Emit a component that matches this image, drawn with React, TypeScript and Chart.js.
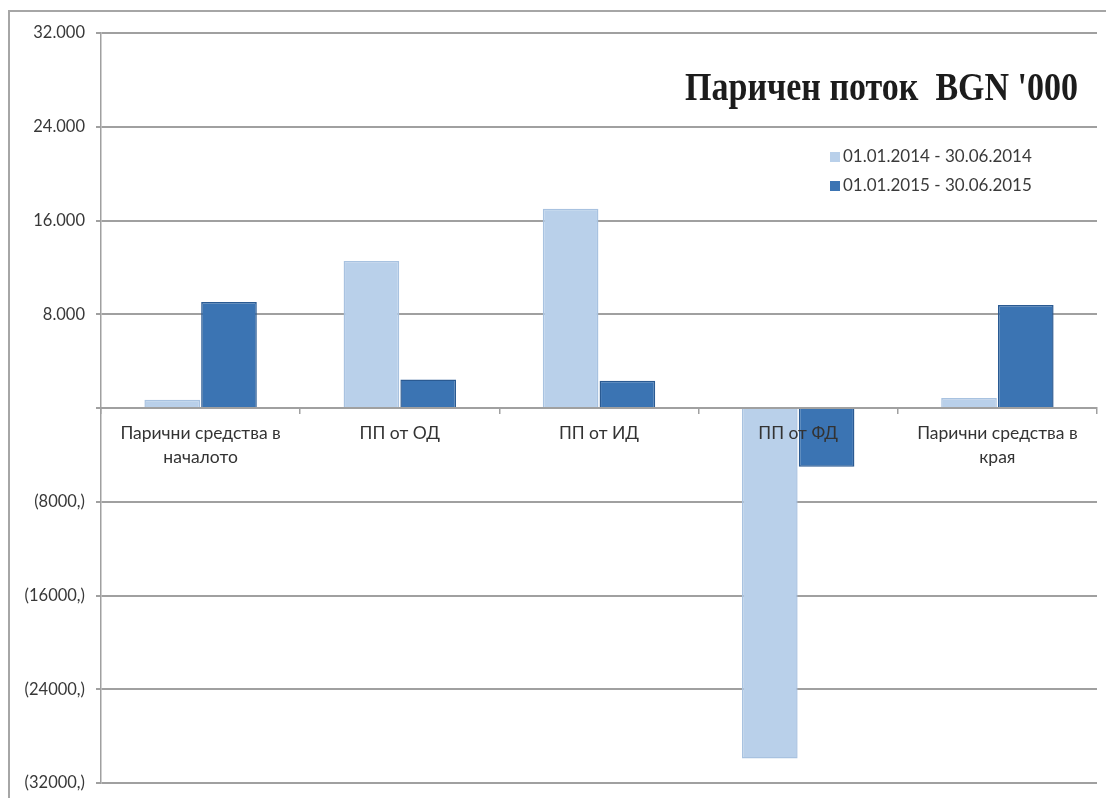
import { useEffect, useRef } from "react";
import { Chart, registerables } from "chart.js";

Chart.register(...registerables);

const categories: (string | string[])[] = [
  ["Парични средства в", "началото"],
  "ПП от ОД",
  "ПП от ИД",
  "ПП от ФД",
  ["Парични средства в", "края"],
];
const series2014 = [700, 12550, 17000, -29900, 850];
const series2015 = [9040, 2440, 2330, -5020, 8790];
const seriesLabels = ["01.01.2014 - 30.06.2014", "01.01.2015 - 30.06.2015"];
const yTickValues = [32000, 24000, 16000, 8000, 0, -8000, -16000, -24000, -32000];
const yTickLabels = ["32.000", "24.000", "16.000", "8.000", "", "(8000,)", "(16000,)", "(24000,)", "(32000,)"];
const chartTitle = "Паричен поток  BGN '000";

const LIGHT = "#b9d0ea";
const LIGHT_BORDER = "#a8c2e0";
const DARK = "#3b74b3";
const DARK_BORDER = "#2a5a92";
const GRID = "#a0a0a0";

const overlayPlugin = {
  id: "overlay",
  afterDraw(chart: any) {
    const ctx = chart.ctx as CanvasRenderingContext2D;
    const area = chart.chartArea;
    ctx.save();
    ctx.fillStyle = "#1c1c1c";
    ctx.font = 'bold 34px "Liberation Serif"';
    ctx.textAlign = "right";
    ctx.textBaseline = "alphabetic";
    ctx.translate(area.right - 19, 100);
    ctx.scale(1, 1.17);
    ctx.fillText(chartTitle, 0, 0);
    ctx.restore();

    ctx.save();
    chart.data.datasets.forEach((ds: any, i: number) => {
      const y = 157 + i * 29;
      ctx.fillStyle = ds.backgroundColor;
      ctx.fillRect(830, y - 5, 10, 10);
      ctx.fillStyle = "#3a3a3a";
      ctx.font = "17px Lato";
      ctx.textAlign = "left";
      ctx.textBaseline = "middle";
      ctx.fillText(ds.label, 843, y);
    });
    ctx.restore();
  },
};

export default function App() {
  const canvasRef = useRef<HTMLCanvasElement | null>(null);

  useEffect(() => {
    document.body.style.margin = "0";
    const canvas = canvasRef.current;
    if (!canvas) return;
    const chart = new Chart(canvas, {
      type: "bar",
      data: {
        labels: categories,
        datasets: [
          {
            label: seriesLabels[0],
            data: series2014,
            backgroundColor: LIGHT,
            borderColor: LIGHT_BORDER,
            borderWidth: 1.5,
            categoryPercentage: 0.57,
            barPercentage: 0.98,
          },
          {
            label: seriesLabels[1],
            data: series2015,
            backgroundColor: DARK,
            borderColor: DARK_BORDER,
            borderWidth: 1.5,
            categoryPercentage: 0.57,
            barPercentage: 0.98,
          },
        ],
      },
      options: {
        responsive: false,
        animation: false,
        layout: { padding: { top: 33, right: 9, bottom: 15, left: 0 } },
        plugins: {
          legend: { display: false },
          title: { display: false },
          tooltip: { enabled: false },
        },
        scales: {
          x: {
            position: { y: 0 } as any,
            grid: {
              display: true,
              drawOnChartArea: false,
              drawTicks: true,
              tickLength: 5,
              color: GRID,
              lineWidth: 1.5,
            },
            border: { color: GRID, width: 2 },
            ticks: {
              z: 1,
              font: { family: "Lato", size: 17.5, lineHeight: 1.4 },
              color: "#333333",
              padding: 8,
              maxRotation: 0,
              autoSkip: false,
            },
          },
          y: {
            min: -32000,
            max: 32000,
            afterBuildTicks: (scale: any) => {
              scale.ticks = yTickValues.map((v) => ({ value: v }));
            },
            afterFit: (scale: any) => {
              scale.width = 101;
              scale.paddingTop = 10;
              scale.paddingBottom = 10;
            },
            ticks: {
              callback: (v: any) => {
                const idx = yTickValues.indexOf(Number(v));
                return idx >= 0 ? yTickLabels[idx] : "";
              },
              font: { family: "Lato", size: 16.5 },
              color: "#383838",
              padding: 11,
            },
            grid: { color: GRID, lineWidth: 2, tickLength: 5 },
            border: { color: GRID, width: 1.5 },
          },
        },
      },
      plugins: [overlayPlugin],
    });
    (document as any).fonts?.ready?.then(() => chart.update());
    return () => chart.destroy();
  }, []);

  return (
    <div style={{ position: "relative", width: 1106, height: 798, overflow: "hidden", background: "#fff" }}>
      <canvas ref={canvasRef} width={1106} height={798} style={{ display: "block" }} />
      <div
        style={{
          position: "absolute",
          left: 8,
          top: 10,
          right: 0,
          bottom: 0,
          borderLeft: "2px solid #a6a6a6",
          borderTop: "2px solid #a6a6a6",
          pointerEvents: "none",
        }}
      />
    </div>
  );
}
